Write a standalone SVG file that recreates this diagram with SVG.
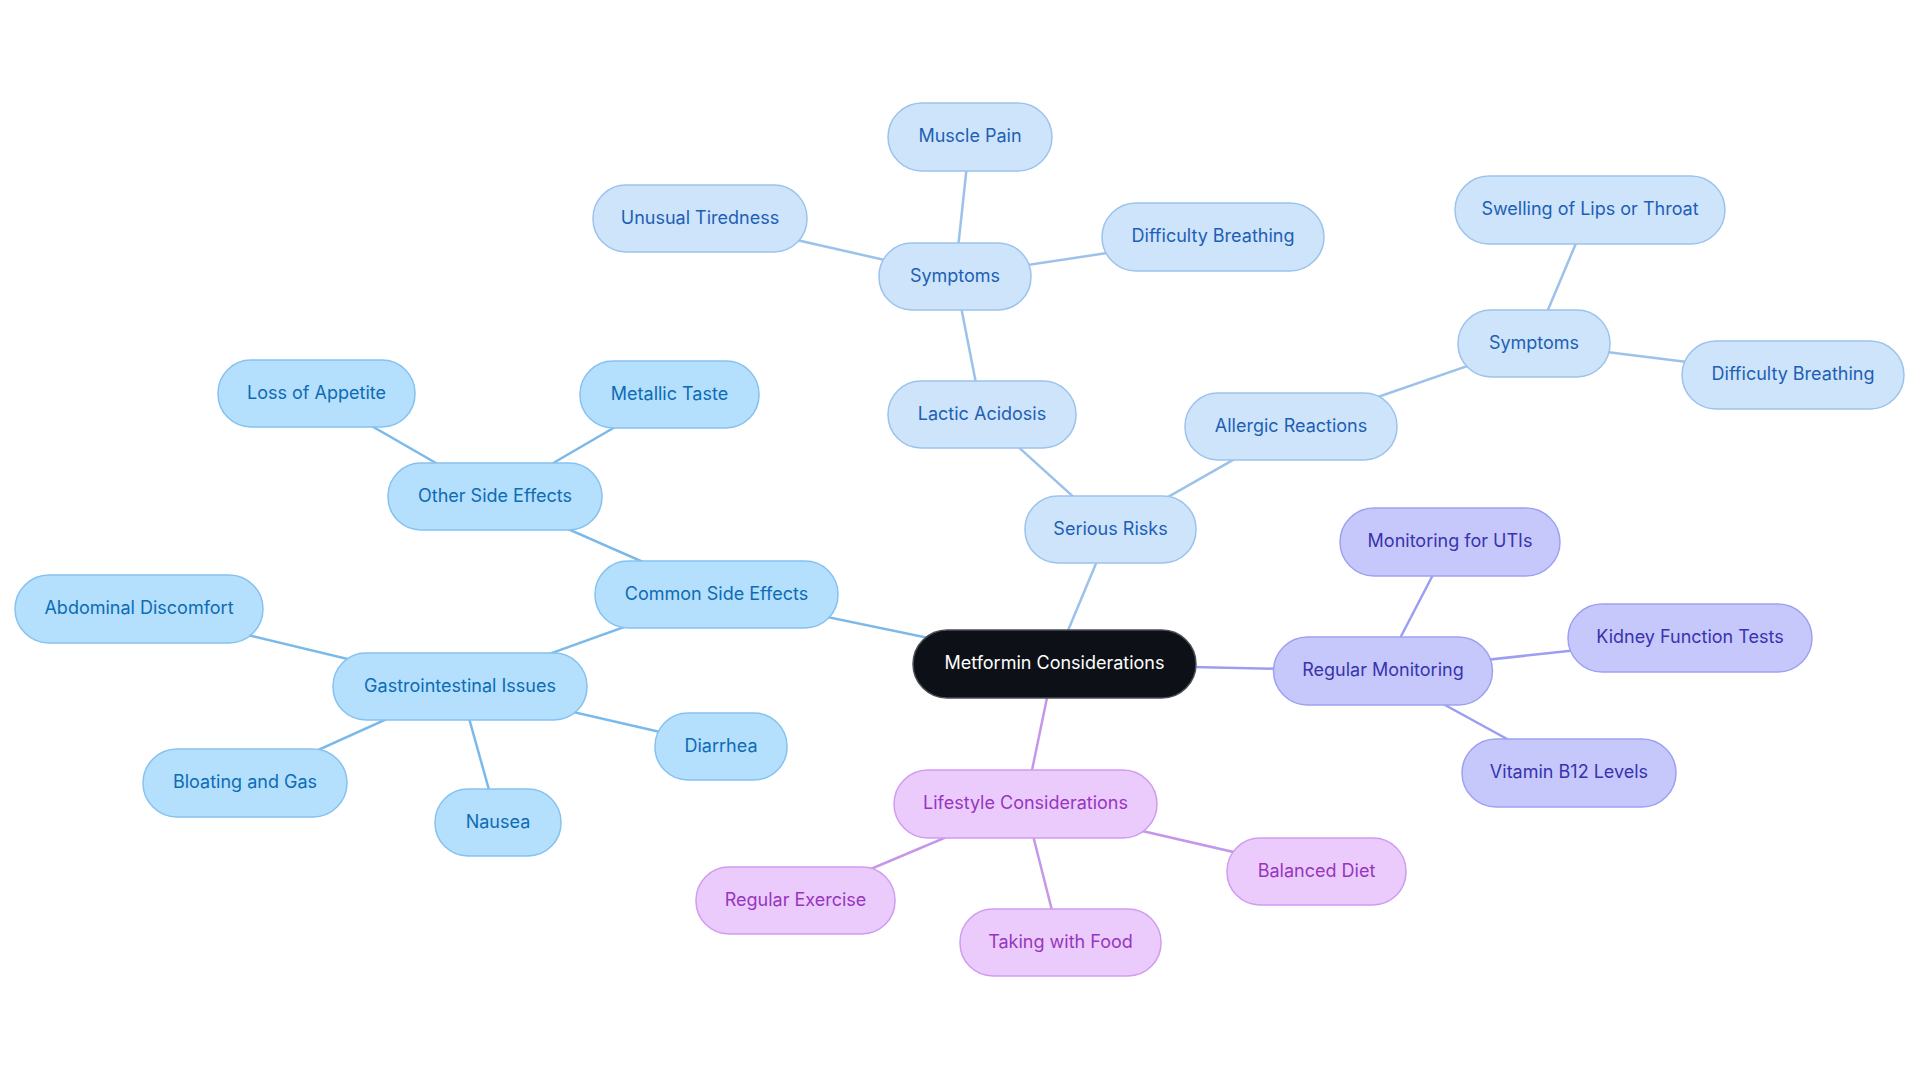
<svg xmlns="http://www.w3.org/2000/svg" width="1920" height="1083" viewBox="0 0 1920 1083">
<style>
text{font-family:Inter,"Noto Sans","Liberation Sans",sans-serif;font-size:18px;text-anchor:middle;dominant-baseline:central}
.a rect{fill:#b4dffd;stroke:#86c2ef;stroke-width:1.5}
.a text{fill:#0d6cb4}
.b rect{fill:#cde4fb;stroke:#9cc3ec;stroke-width:1.5}
.b text{fill:#1e5fb5}
.c rect{fill:#c6c8fb;stroke:#9ea1f1;stroke-width:1.5}
.c text{fill:#3933ad}
.d rect{fill:#ebcbfc;stroke:#cf9cf0;stroke-width:1.5}
.d text{fill:#9636bf}
.m rect{fill:#0d1117;stroke:#4a4f57;stroke-width:1.5}
.m text{fill:#ffffff}
.ea{stroke:#7bb9e9;stroke-width:2.5;fill:none}
.eb{stroke:#9cc2ea;stroke-width:2.5;fill:none}
.ec{stroke:#9c9ff0;stroke-width:2.5;fill:none}
.ed{stroke:#c597e9;stroke-width:2.5;fill:none}
</style>
<rect width="1920" height="1083" fill="#ffffff"/>
<g id="connectors">
<line class="ea" x1="1054" y1="664" x2="716" y2="594"/>
<line class="ea" x1="716" y1="594" x2="495" y2="497"/>
<line class="ea" x1="495" y1="497" x2="316" y2="394"/>
<line class="ea" x1="495" y1="497" x2="670" y2="395"/>
<line class="ea" x1="716" y1="594" x2="460" y2="686"/>
<line class="ea" x1="460" y1="686" x2="139" y2="609"/>
<line class="ea" x1="460" y1="686" x2="721" y2="746"/>
<line class="ea" x1="460" y1="686" x2="245" y2="783"/>
<line class="ea" x1="460" y1="686" x2="498" y2="822"/>
<line class="eb" x1="1054" y1="664" x2="1110" y2="530"/>
<line class="eb" x1="1110" y1="530" x2="982" y2="414"/>
<line class="eb" x1="982" y1="414" x2="955" y2="276"/>
<line class="eb" x1="955" y1="276" x2="970" y2="137"/>
<line class="eb" x1="955" y1="276" x2="700" y2="218"/>
<line class="eb" x1="955" y1="276" x2="1213" y2="237"/>
<line class="eb" x1="1110" y1="530" x2="1291" y2="427"/>
<line class="eb" x1="1291" y1="427" x2="1534" y2="343"/>
<line class="eb" x1="1534" y1="343" x2="1590" y2="210"/>
<line class="eb" x1="1534" y1="343" x2="1793" y2="375"/>
<line class="ec" x1="1054" y1="664" x2="1383" y2="671"/>
<line class="ec" x1="1383" y1="671" x2="1450" y2="542"/>
<line class="ec" x1="1383" y1="671" x2="1690" y2="638"/>
<line class="ec" x1="1383" y1="671" x2="1569" y2="773"/>
<line class="ed" x1="1054" y1="664" x2="1025" y2="804"/>
<line class="ed" x1="1025" y1="804" x2="1316" y2="871"/>
<line class="ed" x1="1025" y1="804" x2="795" y2="901"/>
<line class="ed" x1="1025" y1="804" x2="1060" y2="942"/>
</g>
<g id="n-center" class="m"><rect x="913" y="630" width="283" height="68" rx="34"/><text x="1054.5" y="662.5">Metformin Considerations</text></g>
<g id="n-common" class="a"><rect x="595" y="561" width="243" height="67" rx="33"/><text x="716.5" y="593">Common Side Effects</text></g>
<g id="n-other" class="a"><rect x="388" y="463" width="214" height="67" rx="33"/><text x="495" y="495">Other Side Effects</text></g>
<g id="n-appetite" class="a"><rect x="218" y="360" width="197" height="67" rx="33"/><text x="316.5" y="392">Loss of Appetite</text></g>
<g id="n-metallic" class="a"><rect x="580" y="361" width="179" height="67" rx="33"/><text x="669.5" y="393">Metallic Taste</text></g>
<g id="n-gi" class="a"><rect x="333" y="653" width="254" height="67" rx="33"/><text x="460" y="685">Gastrointestinal Issues</text></g>
<g id="n-abdominal" class="a"><rect x="15" y="575" width="248" height="68" rx="34"/><text x="139" y="607.5">Abdominal Discomfort</text></g>
<g id="n-diarrhea" class="a"><rect x="655" y="713" width="132" height="67" rx="33"/><text x="721" y="745">Diarrhea</text></g>
<g id="n-bloating" class="a"><rect x="143" y="749" width="204" height="68" rx="34"/><text x="245" y="781.5">Bloating and Gas</text></g>
<g id="n-nausea" class="a"><rect x="435" y="789" width="126" height="67" rx="33"/><text x="498" y="821">Nausea</text></g>
<g id="n-serious" class="b"><rect x="1025" y="496" width="171" height="67" rx="33"/><text x="1110.5" y="528">Serious Risks</text></g>
<g id="n-lactic" class="b"><rect x="888" y="381" width="188" height="67" rx="33"/><text x="982" y="413">Lactic Acidosis</text></g>
<g id="n-symptoms1" class="b"><rect x="879" y="243" width="152" height="67" rx="33"/><text x="955" y="275">Symptoms</text></g>
<g id="n-muscle" class="b"><rect x="888" y="103" width="164" height="68" rx="34"/><text x="970" y="135.5">Muscle Pain</text></g>
<g id="n-tiredness" class="b"><rect x="593" y="185" width="214" height="67" rx="33"/><text x="700" y="217">Unusual Tiredness</text></g>
<g id="n-breathing1" class="b"><rect x="1102" y="203" width="222" height="68" rx="34"/><text x="1213" y="235.5">Difficulty Breathing</text></g>
<g id="n-allergic" class="b"><rect x="1185" y="393" width="212" height="67" rx="33"/><text x="1291" y="425">Allergic Reactions</text></g>
<g id="n-symptoms2" class="b"><rect x="1458" y="310" width="152" height="67" rx="33"/><text x="1534" y="342">Symptoms</text></g>
<g id="n-swelling" class="b"><rect x="1455" y="176" width="270" height="68" rx="34"/><text x="1590" y="208.5">Swelling of Lips or Throat</text></g>
<g id="n-breathing2" class="b"><rect x="1682" y="341" width="222" height="68" rx="34"/><text x="1793" y="373.5">Difficulty Breathing</text></g>
<g id="n-monitoring" class="c"><rect x="1273.5" y="637" width="219" height="68" rx="34"/><text x="1383" y="669.5">Regular Monitoring</text></g>
<g id="n-uti" class="c"><rect x="1340" y="508" width="220" height="68" rx="34"/><text x="1450" y="540.5">Monitoring for UTIs</text></g>
<g id="n-kidney" class="c"><rect x="1568" y="604" width="244" height="68" rx="34"/><text x="1690" y="636.5">Kidney Function Tests</text></g>
<g id="n-b12" class="c"><rect x="1462" y="739" width="214" height="68" rx="34"/><text x="1569" y="771.5">Vitamin B12 Levels</text></g>
<g id="n-lifestyle" class="d"><rect x="894" y="770" width="263" height="68" rx="34"/><text x="1025.5" y="802.5">Lifestyle Considerations</text></g>
<g id="n-diet" class="d"><rect x="1227" y="838" width="179" height="67" rx="33"/><text x="1316.5" y="870">Balanced Diet</text></g>
<g id="n-exercise" class="d"><rect x="696" y="867" width="199" height="67" rx="33"/><text x="795.5" y="899">Regular Exercise</text></g>
<g id="n-food" class="d"><rect x="960" y="909" width="201" height="67" rx="33"/><text x="1060.5" y="941">Taking with Food</text></g>
</svg>
